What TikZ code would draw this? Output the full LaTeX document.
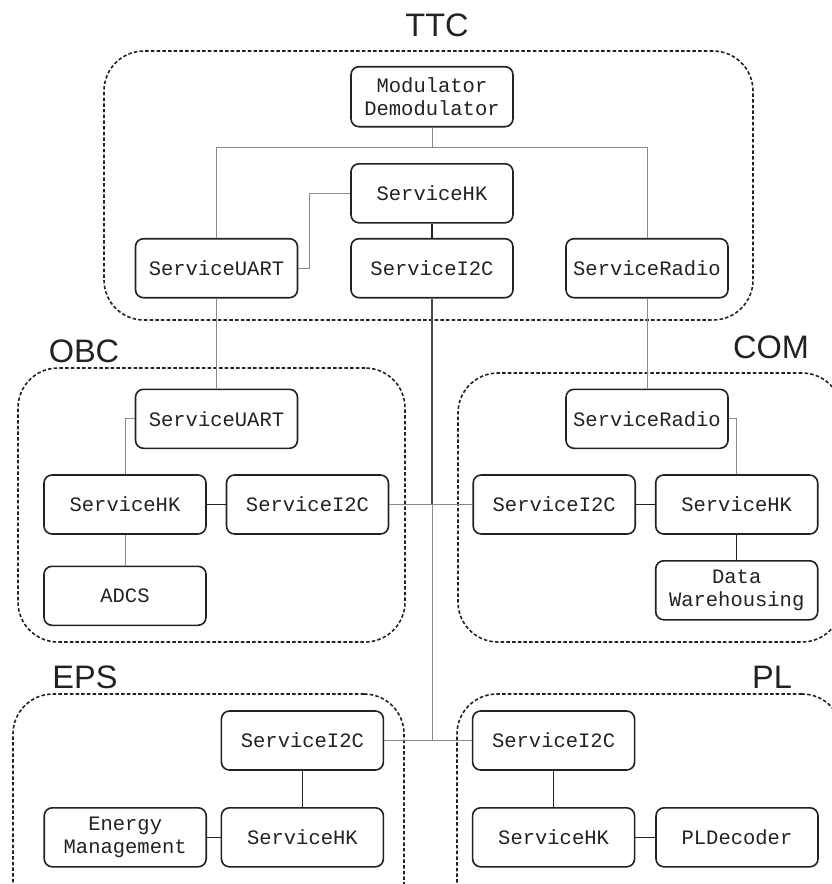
\documentclass[tikz,border=0pt]{standalone}
\usepackage{fontspec}
\setmainfont{Liberation Sans}
\newfontfamily\boxfont{Liberation Mono}
\definecolor{ink}{HTML}{222222}
\definecolor{wiregray}{HTML}{8A8A8A}
\definecolor{busgray}{HTML}{4A4A4A}
\begin{document}
\begin{tikzpicture}[x=1pt,y=-1pt,
  comp/.style={draw=ink, line width=1.6pt, rounded corners=8pt, fill=white,
    minimum width=162pt, minimum height=59pt, inner sep=0pt, align=center,
    text=ink, font=\boxfont\fontsize{20.5}{23.5}\selectfont},
  group/.style={draw=ink, line width=1.6pt, dash pattern=on 3.5pt off 2.2pt,
    rounded corners=40pt, inner sep=0pt},
  grouplabel/.style={text=ink, inner sep=0pt, font=\fontsize{32.5}{32.5}\selectfont},
  wire/.style={draw=wiregray, line width=1pt},
  link/.style={draw=ink, line width=1.1pt},
  bus/.style={draw=busgray, line width=1.3pt}]
\useasboundingbox (0,0) rectangle (832,884);
\clip (0,0) rectangle (832,884);

% subsystem frames
\node[group, minimum width=649pt, minimum height=269pt] (ttc) at (428.5,185.5) {};
\node[group, minimum width=387pt, minimum height=274pt] (obc) at (211.5,505) {};
\node[group, minimum width=384pt, minimum height=269pt] (com) at (650,507.5) {};
\node[group, minimum width=391pt, minimum height=275pt] (eps) at (208.5,831.5) {};
\node[group, minimum width=385pt, minimum height=275pt] (pl) at (649.5,831.5) {};

\node[grouplabel] (ttcl) at (437,25) {TTC};
\node[grouplabel] (obcl) at (84,351) {OBC};
\node[grouplabel] (coml) at (771,347) {COM};
\node[grouplabel] (epsl) at (85,677) {EPS};
\node[grouplabel] (pll)  at (772,677) {PL};

% TTC
\node[comp, minimum height=60pt] (mod) at (432,96.7) {Modulator\\Demodulator};
\node[comp] (thk) at (432,193.3) {ServiceHK};
\node[comp] (tuart) at (216.5,268.2) {ServiceUART};
\node[comp] (ti2c) at (432,268.2) {ServiceI2C};
\node[comp] (tradio) at (647,268.2) {ServiceRadio};

% OBC
\node[comp] (ouart) at (216.5,418.8) {ServiceUART};
\node[comp] (ohk) at (125,504.5) {ServiceHK};
\node[comp] (oi2c) at (307.5,504.5) {ServiceI2C};
\node[comp] (adcs) at (125,595.8) {ADCS};

% COM
\node[comp] (cradio) at (647,418.8) {ServiceRadio};
\node[comp] (ci2c) at (554.2,504.5) {ServiceI2C};
\node[comp] (chk) at (736.7,504.5) {ServiceHK};
\node[comp] (dw) at (736.7,590.3) {Data\\Warehousing};

% EPS
\node[comp] (ei2c) at (302.4,740.5) {ServiceI2C};
\node[comp] (ehk) at (302.4,837.3) {ServiceHK};
\node[comp] (em) at (125.2,837.3) {Energy\\Management};

% PL
\node[comp] (pi2c) at (553.6,740.5) {ServiceI2C};
\node[comp] (phk) at (553.6,837.3) {ServiceHK};
\node[comp] (pld) at (737,837.3) {PLDecoder};

% connections inside TTC
\coordinate (split) at (432,147.3);
\draw[wire] (mod.south) -- (split);
\draw[wire] (tuart.north) |- (split) -| (tradio.north);
\draw[wire] (tuart.east) -- ++(11,0) |- (thk.west);
\draw[link] (thk) -- (ti2c);

% links between subsystems
\draw[wire] (tuart.south) -- (ouart.north);
\draw[wire] (tradio.south) -- (cradio.north);
\coordinate (j1) at (432,504.5);
\coordinate (j2) at (432,740.5);
\draw[bus] (ti2c.south) -- (j1);
\draw[wire] (j1) -- (j2);
\draw[wire] (oi2c.east) -- (ci2c.west);
\draw[wire] (ei2c.east) -- (pi2c.west);

% OBC
\draw[wire] (ouart.west) -| (ohk.north);
\draw[link] (ohk) -- (oi2c);
\draw[wire] (ohk) -- (adcs);

% COM
\draw[wire] (cradio.east) -| (chk.north);
\draw[link] (ci2c) -- (chk);
\draw[link] (chk) -- (dw);

% EPS
\draw[link] (ei2c) -- (ehk);
\draw[link] (em) -- (ehk);

% PL
\draw[link] (pi2c) -- (phk);
\draw[link] (phk) -- (pld);
\end{tikzpicture}
\end{document}
